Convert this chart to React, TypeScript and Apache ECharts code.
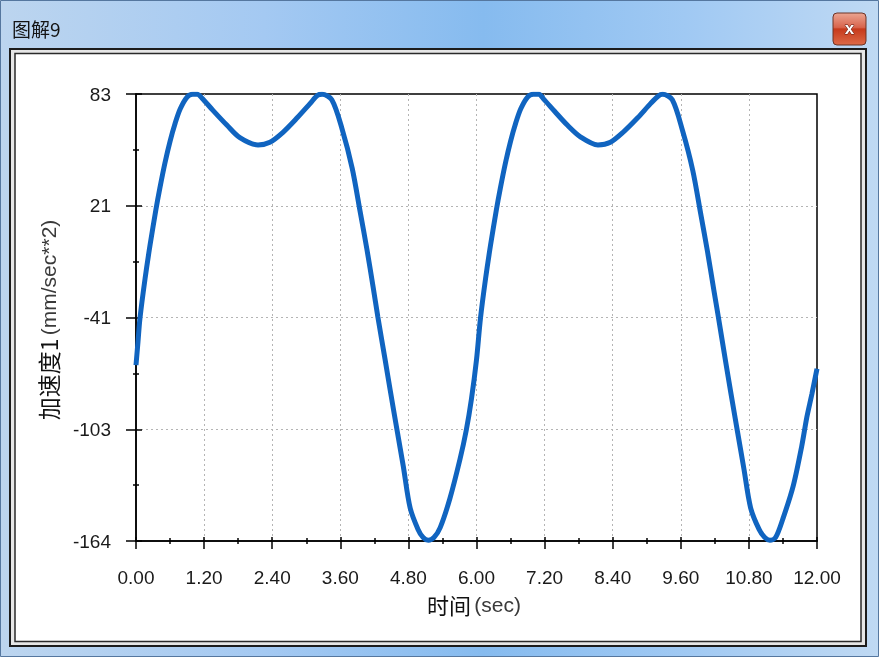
import React, { useEffect, useRef } from "react";
import * as echarts from "echarts";

// time (sec) and acceleration (mm/sec**2)
const timeSec = [
  0.0, 0.035, 0.07, 0.16, 0.25, 0.35, 0.42, 0.51, 0.6, 0.69, 0.78, 0.9, 1.0, 1.08, 1.16, 1.36, 1.6, 1.83,
  2.15, 2.36, 2.59, 2.84, 3.07, 3.2, 3.28, 3.45, 3.63, 3.81, 3.95, 4.07, 4.18, 4.26, 4.39, 4.48,
  4.6, 4.71, 4.83, 4.97, 5.06, 5.15, 5.25, 5.36, 5.53, 5.71, 5.82, 5.91, 6.0,
  6.07, 6.16, 6.25, 6.35, 6.42, 6.51, 6.6, 6.69, 6.78, 6.9, 7.0, 7.1, 7.18, 7.38, 7.6, 7.83,
  8.14, 8.36, 8.6, 8.84, 9.07, 9.2, 9.28, 9.45, 9.63, 9.81, 9.95, 10.07, 10.18, 10.26, 10.39,
  10.48, 10.6, 10.71, 10.83, 10.98, 11.08, 11.17, 11.27, 11.4, 11.58, 11.73, 11.82, 11.91, 12.0,
];
const accelValues = [
  -67, -54, -41, -19, 0, 19, 31, 45, 57, 67, 75, 81.5, 83, 83, 81, 74, 66, 59,
  55, 56.5, 62, 70, 78, 82.5, 83, 80, 64, 42, 18, -3, -24, -40, -64, -81,
  -103, -123, -146, -158, -162.5, -164, -162.5, -157, -141, -119, -103, -86, -64,
  -41, -19, 0, 19, 31, 45, 57, 67, 75, 81.5, 83, 83, 80.5, 73.5, 66, 59.5,
  55, 56.5, 62.5, 70, 78, 82, 83, 80, 63, 41, 17, -4, -25, -40, -65,
  -82, -104, -124, -146, -158, -162.5, -164, -162.5, -152, -134, -112, -96, -83, -69,
];

const xMin = 0;
const xMax = 12;
const xStep = 1.2;
const yMin = -164.4;
const yMax = 83.2;
const yStep = 61.9;

const windowTitle = "图解9";
const xTitleMain = "时间";
const xTitleUnit = "(sec)";
const yTitleMain = "加速度1";
const yTitleUnit = "(mm/sec**2)";

export default function App() {
  const ref = useRef<HTMLDivElement>(null);

  useEffect(() => {
    if (!ref.current) return;
    const chart = echarts.init(ref.current, undefined, { renderer: "svg" });
    const labelFont = {
      fontFamily: "'Liberation Sans', Arial, sans-serif",
      fontSize: 19,
      color: "#1a1a1a",
    };
    const round = (v: number) => Math.sign(v) * Math.round(Math.abs(v));
    const tickLine = { color: "#000", width: 1.5 };
    const gridSplit = {
      show: true,
      showMinLine: false,
      showMaxLine: false,
      lineStyle: { color: "#b4b4b4", type: [2, 3], width: 1 },
    };

    const option: any = {
      animation: false,
      backgroundColor: "transparent",
      grid: {
        left: 136,
        right: 62,
        top: 94,
        bottom: 116,
        show: true,
        borderColor: "#000",
        borderWidth: 1.5,
        backgroundColor: "transparent",
      },
      xAxis: [
        {
          type: "value",
          min: xMin,
          max: xMax,
          interval: xStep,
          position: "bottom",
          axisLine: { onZero: false, lineStyle: { color: "#000", width: 1.5 } },
          axisTick: { show: true, length: 8, lineStyle: tickLine },
          minorTick: { show: true, splitNumber: 2, length: 3, lineStyle: tickLine },
          axisLabel: { ...labelFont, margin: 27, formatter: (v: number) => v.toFixed(2) },
          splitLine: gridSplit,
        },
        {
          type: "value",
          min: xMin,
          max: xMax,
          interval: xStep,
          position: "bottom",
          axisLine: { show: false, onZero: false },
          axisTick: { show: true, inside: true, length: 4, lineStyle: tickLine },
          minorTick: { show: true, splitNumber: 2, length: 3, lineStyle: tickLine },
          axisLabel: { show: false },
          splitLine: { show: false },
        },
      ],
      yAxis: [
        {
          type: "value",
          min: yMin,
          max: yMax,
          interval: yStep,
          position: "left",
          axisLine: { show: true, onZero: false, lineStyle: { color: "#000", width: 1.5 } },
          axisTick: { show: true, length: 10, lineStyle: tickLine },
          minorTick: { show: true, splitNumber: 2, length: 3, lineStyle: tickLine },
          axisLabel: { ...labelFont, margin: 25, formatter: (v: number) => String(round(v)) },
          splitLine: gridSplit,
        },
        {
          type: "value",
          min: yMin,
          max: yMax,
          interval: yStep,
          position: "left",
          axisLine: { show: false, onZero: false },
          axisTick: { show: true, inside: true, length: 6, lineStyle: tickLine },
          minorTick: { show: true, splitNumber: 2, length: 3, lineStyle: tickLine },
          axisLabel: { show: false },
          splitLine: { show: false },
        },
      ],
      series: [
        {
          type: "line",
          xAxisIndex: 0,
          yAxisIndex: 0,
          data: timeSec.map((t, i) => [t, accelValues[i]]),
          showSymbol: false,
          smooth: 0.3,
          lineStyle: { color: "#1064c0", width: 5 },
          itemStyle: { color: "#1064c0" },
          z: 5,
        },
      ],
      graphic: [
        {
          type: "rect",
          z: -20,
          shape: { x: 0.5, y: 0.5, width: 878, height: 656 },
          style: {
            fill: new echarts.graphic.LinearGradient(0, 0, 1, 0, [
              { offset: 0, color: "#bcd5ef" },
              { offset: 0.3, color: "#a4c9f2" },
              { offset: 0.55, color: "#86bbef" },
              { offset: 0.78, color: "#a0c9f3" },
              { offset: 1, color: "#bfd9f3" },
            ]),
            stroke: "#55779f",
            lineWidth: 1,
          },
        },
        {
          type: "rect",
          z: -19,
          shape: { x: 10, y: 49, width: 856, height: 597 },
          style: { fill: "#e6e6e6", stroke: "#1c1c1c", lineWidth: 2 },
        },
        {
          type: "rect",
          z: -18,
          shape: { x: 15, y: 53.5, width: 846, height: 588 },
          style: { fill: "#ffffff", stroke: "#2a2a2a", lineWidth: 1.5 },
        },
        {
          type: "text",
          z: 10,
          x: 12,
          y: 28,
          style: {
            text: windowTitle,
            fill: "#141414",
            fontSize: 19,
            fontFamily: "'Noto Sans CJK SC', sans-serif",
            verticalAlign: "middle",
            align: "left",
          },
        },
        {
          type: "rect",
          z: 10,
          shape: { x: 833, y: 13, width: 33, height: 32, r: 4 },
          style: {
            fill: new echarts.graphic.LinearGradient(0, 0, 0, 1, [
              { offset: 0, color: "#eba592" },
              { offset: 0.45, color: "#d8644c" },
              { offset: 0.5, color: "#c63a1c" },
              { offset: 1, color: "#dd6a47" },
            ]),
            stroke: "#6d3427",
            lineWidth: 1,
          },
        },
        {
          type: "text",
          z: 11,
          x: 849.5,
          y: 28.5,
          style: {
            text: "x",
            fill: "#ffffff",
            stroke: "#5a1a10",
            lineWidth: 1,
            fontSize: 17,
            fontWeight: "bold",
            fontFamily: "'Liberation Sans', Arial, sans-serif",
            align: "center",
            verticalAlign: "middle",
          },
        },
        {
          type: "text",
          z: 10,
          x: 474,
          y: 604,
          style: {
            text: `{a|${xTitleMain}} {b|${xTitleUnit}}`,
            align: "center",
            verticalAlign: "middle",
            rich: {
              a: { fontSize: 22, fontFamily: "'Noto Sans CJK SC', sans-serif", fill: "#111" },
              b: { fontSize: 21, fontFamily: "'Liberation Sans', Arial, sans-serif", fill: "#3a3a3a" },
            },
          },
        },
        {
          type: "text",
          z: 10,
          x: 48,
          y: 320,
          rotation: Math.PI / 2,
          style: {
            text: `{a|${yTitleMain}} {b|${yTitleUnit}}`,
            align: "center",
            verticalAlign: "middle",
            rich: {
              a: { fontSize: 23, fontFamily: "'Noto Sans CJK SC', sans-serif", fill: "#111" },
              b: { fontSize: 21, fontFamily: "'Liberation Sans', Arial, sans-serif", fill: "#3a3a3a" },
            },
          },
        },
      ],
    };
    chart.setOption(option);
    return () => chart.dispose();
  }, []);

  return (
    <div
      ref={ref}
      style={{ position: "fixed", left: 0, top: 0, width: 879, height: 657 }}
    />
  );
}
